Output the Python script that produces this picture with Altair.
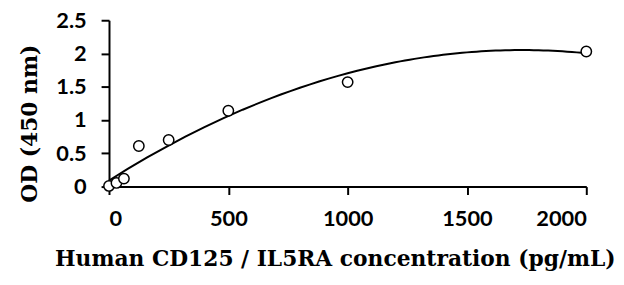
import altair as alt
import pandas as pd

conc = [0, 31.25, 62.5, 125, 250, 500, 1000, 2000]
od = [0.01, 0.055, 0.12, 0.61, 0.70, 1.14, 1.57, 2.03]
x_ticks = [0, 500, 1000, 1500, 2000]
y_ticks = [0, 0.5, 1, 1.5, 2, 2.5]

df = pd.DataFrame({"conc": conc, "od": od})

x_enc = alt.X("conc:Q", scale=alt.Scale(domain=[0, 2000], nice=False, zero=True),
              axis=alt.Axis(values=x_ticks, format="d",
                            title="Human CD125 / IL5RA concentration (pg/mL)",
                            titleX=228))
y_enc = alt.Y("od:Q", scale=alt.Scale(domain=[0, 2.5], nice=False),
              axis=alt.Axis(values=y_ticks, format="~r", title="OD (450 nm)", titleY=104))

base = alt.Chart(df)

curve = base.transform_regression("conc", "od", method="poly", order=2).mark_line(
    color="black", strokeWidth=2).encode(x=x_enc, y=y_enc)

points = base.mark_point(shape="circle", filled=False, fill="white", fillOpacity=1,
                         stroke="black", strokeWidth=1.5, size=110, opacity=1).encode(x=x_enc, y=y_enc)

chart = (curve + points).properties(
    width=482, height=168,
    autosize=alt.AutoSizeParams(type="none"),
    padding={"left": 102, "top": 11, "right": 30, "bottom": 96},
).configure_view(stroke=None).configure_axis(
    grid=False,
    domainColor="black", domainWidth=2,
    tickColor="black", tickWidth=2, tickSize=8,
    labelFont="Lato", labelFontWeight="bold", labelFontSize=22, labelColor="black",
    titleFont="DejaVu Serif", titleFontWeight="bold", titleFontSize=22, titleColor="black",
).configure_axisX(labelPadding=14, titlePadding=20).configure_axisY(labelPadding=15, titlePadding=14)

chart.save("out.html", embed_options={"renderer": "svg", "actions": False})
